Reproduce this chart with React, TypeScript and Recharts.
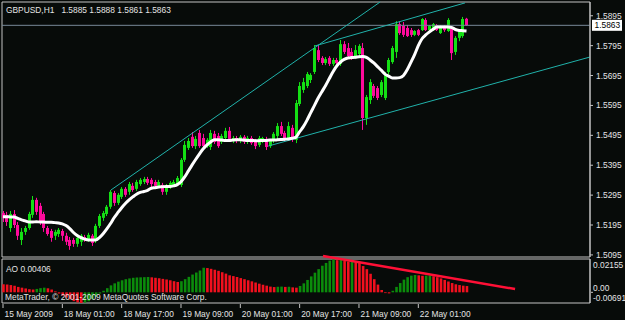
import React from 'react';
import { ComposedChart, Bar, Line, XAxis, YAxis, ReferenceLine, ReferenceArea, Cell } from 'recharts';

// GBPUSD H1, one entry per hourly bar (15 May 2009 .. 22 May 2009)
const opens = [
  1.5235, 1.5229, 1.5185, 1.5232, 1.5195, 1.5145, 1.5172, 1.5185, 1.5229, 1.5279,
  1.5259, 1.5232, 1.5185, 1.5175, 1.5159, 1.5165, 1.5175, 1.5159, 1.5145, 1.5145,
  1.5132, 1.5139, 1.5155, 1.5145, 1.5159, 1.5142, 1.5192, 1.5219, 1.5232, 1.5256,
  1.5302, 1.5269, 1.5289, 1.5316, 1.5306, 1.5326, 1.5316, 1.5332, 1.5339, 1.5349,
  1.5346, 1.5339, 1.5326, 1.5329, 1.5306, 1.5322, 1.5329, 1.5332, 1.5329, 1.5413,
  1.5453, 1.5490, 1.5459, 1.5503, 1.5486, 1.5459, 1.5456, 1.5500, 1.5493, 1.5473,
  1.5486, 1.5510, 1.5476, 1.5486, 1.5476, 1.5490, 1.5473, 1.5486, 1.5476, 1.5463,
  1.5476, 1.5483, 1.5459, 1.5476, 1.5493, 1.5526, 1.5503, 1.5486, 1.5520, 1.5480,
  1.5600, 1.5647, 1.5660, 1.5680, 1.5707, 1.5780, 1.5754, 1.5737, 1.5754, 1.5734,
  1.5747, 1.5734, 1.5800, 1.5787, 1.5774, 1.5757, 1.5767, 1.5787, 1.5553, 1.5613,
  1.5660, 1.5653, 1.5630, 1.5620, 1.5707, 1.5740, 1.5774, 1.5867, 1.5861, 1.5854,
  1.5847, 1.5831, 1.5847, 1.5847, 1.5881, 1.5847, 1.5847, 1.5864, 1.5837, 1.5861,
  1.5844, 1.5851, 1.5774, 1.5821, 1.5827, 1.5885,
];
const highs = [
  1.5242, 1.5239, 1.5242, 1.5245, 1.5205, 1.5185, 1.5192, 1.5239, 1.5292, 1.5286,
  1.5269, 1.5239, 1.5192, 1.5182, 1.5179, 1.5185, 1.5182, 1.5169, 1.5155, 1.5152,
  1.5159, 1.5165, 1.5162, 1.5169, 1.5165, 1.5199, 1.5232, 1.5242, 1.5262, 1.5312,
  1.5309, 1.5302, 1.5322, 1.5322, 1.5339, 1.5336, 1.5346, 1.5352, 1.5356, 1.5356,
  1.5352, 1.5346, 1.5346, 1.5336, 1.5332, 1.5342, 1.5346, 1.5359, 1.5419, 1.5476,
  1.5486, 1.5506, 1.5493, 1.5513, 1.5500, 1.5486, 1.5513, 1.5510, 1.5503, 1.5500,
  1.5520, 1.5523, 1.5493, 1.5493, 1.5496, 1.5496, 1.5493, 1.5493, 1.5483, 1.5493,
  1.5490, 1.5490, 1.5483, 1.5506, 1.5536, 1.5540, 1.5510, 1.5540, 1.5530, 1.5613,
  1.5673, 1.5687, 1.5707, 1.5703, 1.5797, 1.5797, 1.5760, 1.5757, 1.5760, 1.5754,
  1.5754, 1.5814, 1.5810, 1.5804, 1.5787, 1.5797, 1.5800, 1.5804, 1.5630, 1.5683,
  1.5667, 1.5660, 1.5680, 1.5707, 1.5754, 1.5794, 1.5877, 1.5877, 1.5874, 1.5864,
  1.5854, 1.5847, 1.5851, 1.5887, 1.5887, 1.5864, 1.5871, 1.5867, 1.5864, 1.5864,
  1.5887, 1.5861, 1.5827, 1.5847, 1.5891, 1.5888,
];
const lows = [
  1.5205, 1.5192, 1.5172, 1.5185, 1.5145, 1.5128, 1.5162, 1.5179, 1.5219, 1.5229,
  1.5195, 1.5172, 1.5159, 1.5139, 1.5145, 1.5155, 1.5142, 1.5128, 1.5112, 1.5122,
  1.5122, 1.5125, 1.5139, 1.5139, 1.5125, 1.5135, 1.5185, 1.5209, 1.5225, 1.5249,
  1.5259, 1.5262, 1.5282, 1.5289, 1.5296, 1.5306, 1.5309, 1.5326, 1.5332, 1.5329,
  1.5322, 1.5316, 1.5319, 1.5296, 1.5296, 1.5316, 1.5322, 1.5326, 1.5322, 1.5406,
  1.5446, 1.5453, 1.5449, 1.5453, 1.5446, 1.5453, 1.5446, 1.5466, 1.5453, 1.5466,
  1.5480, 1.5476, 1.5469, 1.5469, 1.5469, 1.5466, 1.5466, 1.5463, 1.5449, 1.5456,
  1.5469, 1.5446, 1.5453, 1.5469, 1.5483, 1.5493, 1.5476, 1.5480, 1.5473, 1.5469,
  1.5593, 1.5637, 1.5653, 1.5670, 1.5700, 1.5740, 1.5730, 1.5730, 1.5727, 1.5727,
  1.5730, 1.5727, 1.5767, 1.5754, 1.5747, 1.5750, 1.5757, 1.5513, 1.5530, 1.5600,
  1.5620, 1.5613, 1.5623, 1.5613, 1.5700, 1.5734, 1.5754, 1.5831, 1.5824, 1.5824,
  1.5824, 1.5827, 1.5827, 1.5844, 1.5844, 1.5844, 1.5844, 1.5844, 1.5834, 1.5841,
  1.5841, 1.5747, 1.5764, 1.5810, 1.5821, 1.5861,
];
const closes = [
  1.5219, 1.5205, 1.5232, 1.5195, 1.5159, 1.5172, 1.5185, 1.5232, 1.5279, 1.5239,
  1.5205, 1.5185, 1.5165, 1.5152, 1.5172, 1.5179, 1.5159, 1.5139, 1.5125, 1.5132,
  1.5152, 1.5159, 1.5145, 1.5162, 1.5135, 1.5192, 1.5225, 1.5235, 1.5256, 1.5306,
  1.5269, 1.5296, 1.5316, 1.5296, 1.5332, 1.5312, 1.5339, 1.5346, 1.5349, 1.5336,
  1.5332, 1.5326, 1.5339, 1.5306, 1.5326, 1.5336, 1.5339, 1.5352, 1.5413, 1.5463,
  1.5476, 1.5459, 1.5483, 1.5459, 1.5459, 1.5480, 1.5503, 1.5473, 1.5459, 1.5493,
  1.5510, 1.5483, 1.5486, 1.5476, 1.5490, 1.5473, 1.5486, 1.5469, 1.5459, 1.5486,
  1.5486, 1.5456, 1.5476, 1.5500, 1.5526, 1.5500, 1.5483, 1.5526, 1.5483, 1.5603,
  1.5660, 1.5673, 1.5700, 1.5697, 1.5787, 1.5747, 1.5737, 1.5750, 1.5734, 1.5747,
  1.5737, 1.5800, 1.5774, 1.5760, 1.5754, 1.5780, 1.5794, 1.5553, 1.5623, 1.5673,
  1.5627, 1.5620, 1.5673, 1.5700, 1.5747, 1.5787, 1.5867, 1.5837, 1.5831, 1.5827,
  1.5831, 1.5844, 1.5831, 1.5884, 1.5847, 1.5861, 1.5867, 1.5847, 1.5861, 1.5847,
  1.5881, 1.5770, 1.5821, 1.5841, 1.5884, 1.5863,
];
// the white moving average
const maLine = [
  1.5223, 1.5223, 1.5222, 1.5222, 1.5217, 1.5212, 1.5209, 1.5205, 1.5205, 1.5206,
  1.5205, 1.5205, 1.5204, 1.5204, 1.5203, 1.5202, 1.5199, 1.5193, 1.5183, 1.5170,
  1.5160, 1.5153, 1.5148, 1.5145, 1.5145, 1.5145, 1.5153, 1.5166, 1.5182, 1.5200,
  1.5220, 1.5237, 1.5253, 1.5267, 1.5279, 1.5289, 1.5298, 1.5304, 1.5307, 1.5311,
  1.5318, 1.5320, 1.5322, 1.5323, 1.5324, 1.5324, 1.5326, 1.5330, 1.5340, 1.5356,
  1.5376, 1.5396, 1.5415, 1.5433, 1.5450, 1.5463, 1.5473, 1.5480, 1.5480, 1.5479,
  1.5478, 1.5478, 1.5479, 1.5480, 1.5480, 1.5479, 1.5478, 1.5478, 1.5477, 1.5477,
  1.5478, 1.5478, 1.5479, 1.5479, 1.5480, 1.5481, 1.5482, 1.5483, 1.5485, 1.5489,
  1.5507, 1.5524, 1.5546, 1.5571, 1.5595, 1.5620, 1.5641, 1.5662, 1.5685, 1.5708,
  1.5727, 1.5740, 1.5749, 1.5754, 1.5755, 1.5756, 1.5758, 1.5759, 1.5756, 1.5747,
  1.5737, 1.5725, 1.5713, 1.5700, 1.5693, 1.5687, 1.5687, 1.5688, 1.5695, 1.5714,
  1.5739, 1.5765, 1.5795, 1.5818, 1.5831, 1.5841, 1.5850, 1.5857, 1.5857, 1.5857,
  1.5857, 1.5856, 1.5849, 1.5846, 1.5845, 1.5844,
];
// Awesome Oscillator histogram
const aoValues = [
  0.0052, 0.0050, 0.0047, 0.0042, 0.0035, 0.0030, 0.0025, 0.0020, 0.0018, 0.0022,
  0.0027, 0.0030, 0.0026, 0.0018, 0.0006, -0.0008, -0.0021, -0.0034, -0.0046, -0.0057,
  -0.0065, -0.0069, -0.0066, -0.0058, -0.0045, -0.0028, -0.0008, 0.0010, 0.0027, 0.0045,
  0.0058, 0.0069, 0.0078, 0.0085, 0.0090, 0.0094, 0.0096, 0.0097, 0.0098, 0.0099,
  0.0097, 0.0094, 0.0091, 0.0087, 0.0083, 0.0078, 0.0072, 0.0067, 0.0072, 0.0085,
  0.0100, 0.0115, 0.0128, 0.0141, 0.0159, 0.0157, 0.0152, 0.0146, 0.0139, 0.0130,
  0.0121, 0.0110, 0.0105, 0.0099, 0.0092, 0.0085, 0.0078, 0.0071, 0.0063, 0.0056,
  0.0049, 0.0043, 0.0037, 0.0034, 0.0036, 0.0037, 0.0035, 0.0036, 0.0032, 0.0030,
  0.0041, 0.0058, 0.0080, 0.0103, 0.0127, 0.0150, 0.0172, 0.0190, 0.0205, 0.0213,
  0.0208, 0.0209, 0.0204, 0.0199, 0.0200, 0.0198, 0.0193, 0.0170, 0.0150, 0.0120,
  0.0085, 0.0050, 0.0015, -0.0005, -0.0007, 0.0010, 0.0035, 0.0060, 0.0082, 0.0098,
  0.0108, 0.0112, 0.0110, 0.0107, 0.0108, 0.0109, 0.0104, 0.0098, 0.0090, 0.0080,
  0.0070, 0.0060, 0.0052, 0.0047, 0.0043, 0.00406,
];

const priceTicks = [1.5095, 1.5195, 1.5295, 1.5395, 1.5495, 1.5595, 1.5695, 1.5795, 1.5895];
const aoTicks = [0.02155, 0, -0.00691];
const timeTicks = [0, 16, 32, 48, 64, 80, 96, 112];
const timeLabels = [
  '15 May 2009', '18 May 01:00', '18 May 17:00', '19 May 09:00',
  '20 May 01:00', '20 May 17:00', '21 May 09:00', '22 May 01:00',
];
const lastPrice = 1.5863;
const lastAo = 0.00406;

// trend lines as [bar index, price] pairs
const channelLines = [
  [[29.1, 1.5312], [101.7, 1.5941]],
  [[84.1, 1.5794], [124.6, 1.5938]],
  [[71.5, 1.5459], [158.3, 1.5757]],
];
const aoTrend = [[86.3, 0.0235], [138.1, 0.0021]];

const BG = '#070b09';
const FG = '#e4e4e4';
const FRAME = '#c4c4c4';
const BULL = '#14e014';
const BEAR = '#ff0a9c';
const FONT = '"Liberation Sans", Arial, sans-serif';
const X_DOMAIN: [number, number] = [-0.27, 158.3];
const PRICE_DOMAIN: [number, number] = [1.5088, 1.5941];
const AO_DOMAIN: [number, number] = [-0.00691, 0.02155];

const candles = opens.map((open, i) => ({
  i,
  open,
  high: highs[i],
  low: lows[i],
  close: closes[i],
  range: [lows[i], highs[i]],
  ma: maLine[i],
}));

const aoData = aoValues.map((ao, i) => ({ i, ao, up: i > 0 && ao > aoValues[i - 1] }));

const Candle = (props: any) => {
  const { x, y, width, height, payload } = props;
  if (x == null || y == null) return null;
  const top = Math.min(y, y + height);
  const h = Math.abs(height);
  const span = payload.high - payload.low || 1e-9;
  const py = (v: number) => top + ((payload.high - v) / span) * h;
  const cx = Math.round(x + width / 2) + 0.5;
  const color = payload.close >= payload.open ? BULL : BEAR;
  const b1 = py(Math.max(payload.open, payload.close));
  const b2 = py(Math.min(payload.open, payload.close));
  return (
    <g>
      <line x1={cx} x2={cx} y1={top} y2={top + h} stroke={color} strokeWidth={1} />
      <rect x={cx - 1.5} y={b1} width={3} height={Math.max(1, b2 - b1)} fill={color} />
    </g>
  );
};

const PriceTag = (props: any) => {
  const vb = props.viewBox;
  if (!vb) return null;
  const x = vb.x + vb.width + 2;
  return (
    <g>
      <rect x={x} y={vb.y - 5.5} width={30} height={11} fill="#ffffff" />
      <text x={x + 2.5} y={vb.y} dy="0.35em" fontSize={8.4} fontFamily={FONT} fill="#000000">
        {lastPrice.toFixed(4)}
      </text>
    </g>
  );
};

const AoTick = (props: any) => {
  const { x, y, payload } = props;
  const v = payload.value;
  // MetaTrader puts the max label below the top edge and the min label above the bottom
  const shift = v > 0.01 ? 6.5 : v < 0 ? -5 : -4;
  return (
    <g>
      {v === 0 && <line x1={x - 2} x2={x} y1={y} y2={y} stroke={FRAME} />}
      <text x={x} y={y + shift} dy="0.35em" fontSize={8.4} fontFamily={FONT} fill={FG}>
        {v === 0 ? '0.00' : v.toFixed(5)}
      </text>
    </g>
  );
};

const TimeTick = (props: any) => {
  const { x, y, payload } = props;
  const k = timeTicks.indexOf(payload.value);
  return (
    <g>
      <line x1={x} x2={x} y1={y + 1} y2={y + 5} stroke={FRAME} />
      <text x={x + 1.5} y={y + 13.5} fontSize={8.4} fontFamily={FONT} fill={FG} textAnchor="start">
        {timeLabels[k]}
      </text>
    </g>
  );
};

const label: React.CSSProperties = {
  position: 'absolute',
  color: FG,
  fontFamily: FONT,
  fontSize: 8.4,
  lineHeight: '10px',
  whiteSpace: 'pre',
};

export default function App() {
  return (
    <div style={{ position: 'fixed', left: 0, top: 0, width: 625, height: 320, background: BG, overflow: 'hidden' }}>
      <div style={{ position: 'absolute', left: 0, top: 0 }}>
        <ComposedChart width={625} height={260} data={candles} margin={{ top: 2, right: 0, bottom: 3, left: 2 }}>
          <XAxis dataKey="i" type="number" domain={X_DOMAIN} allowDataOverflow hide />
          <YAxis
            orientation="right"
            width={35}
            domain={PRICE_DOMAIN}
            allowDataOverflow
            ticks={priceTicks}
            interval={0}
            tickFormatter={(v: number) => v.toFixed(4)}
            tick={{ fill: FG, fontSize: 8.4, fontFamily: FONT }}
            tickLine={{ stroke: FRAME }}
            tickSize={3}
            tickMargin={3}
            axisLine={{ stroke: FRAME }}
          />
          <ReferenceArea x1={X_DOMAIN[0]} x2={X_DOMAIN[1]} y1={PRICE_DOMAIN[0]} y2={PRICE_DOMAIN[1]} fill="none" stroke={FRAME} ifOverflow="visible" />
          <ReferenceLine y={lastPrice} stroke="#778899" label={(p: any) => <PriceTag {...p} />} />
          <Bar dataKey="range" barSize={3} shape={<Candle />} isAnimationActive={false} />
          {channelLines.map((seg, k) => (
            <ReferenceLine
              key={k}
              segment={[{ x: seg[0][0], y: seg[0][1] }, { x: seg[1][0], y: seg[1][1] }]}
              stroke="#20b2aa"
              ifOverflow="visible"
            />
          ))}
          <Line dataKey="ma" type="monotone" stroke="#ffffff" strokeWidth={3} dot={false} isAnimationActive={false} />
        </ComposedChart>
      </div>
      <div style={{ position: 'absolute', left: 0, top: 248 }}>
        <ComposedChart width={625} height={72} data={aoData} margin={{ top: 11, right: 0, bottom: 0, left: 2 }}>
          <XAxis
            dataKey="i"
            type="number"
            domain={X_DOMAIN}
            allowDataOverflow
            ticks={timeTicks}
            interval={0}
            tick={<TimeTick />}
            tickLine={false}
            axisLine={false}
            tickSize={0}
            tickMargin={0}
            height={17}
          />
          <YAxis
            orientation="right"
            width={35}
            domain={AO_DOMAIN}
            allowDataOverflow
            ticks={aoTicks}
            interval={0}
            tick={<AoTick />}
            tickLine={false}
            tickSize={3}
            tickMargin={0}
            axisLine={{ stroke: FRAME }}
          />
          <ReferenceArea x1={X_DOMAIN[0]} x2={X_DOMAIN[1]} y1={AO_DOMAIN[0]} y2={AO_DOMAIN[1]} fill="none" stroke={FRAME} ifOverflow="visible" />
          <Bar dataKey="ao" barSize={2.6} isAnimationActive={false}>
            {aoData.map((d) => (
              <Cell key={d.i} fill={d.up ? '#0b8c0b' : '#f2101e'} />
            ))}
          </Bar>
          <ReferenceLine
            segment={[{ x: aoTrend[0][0], y: aoTrend[0][1] }, { x: aoTrend[1][0], y: aoTrend[1][1] }]}
            stroke="#ff1036"
            strokeWidth={2.5}
            ifOverflow="visible"
          />
        </ComposedChart>
      </div>
      <div style={{ ...label, left: 6, top: 5 }}>{'GBPUSD,H1   1.5885 1.5888 1.5861 1.5863'}</div>
      <div style={{ ...label, left: 6, top: 263.5 }}>{`AO ${lastAo.toFixed(5)}`}</div>
      <div style={{ ...label, left: 5, top: 291.5 }}>{'MetaTrader, © 2001-2009 MetaQuotes Software Corp.'}</div>
    </div>
  );
}
